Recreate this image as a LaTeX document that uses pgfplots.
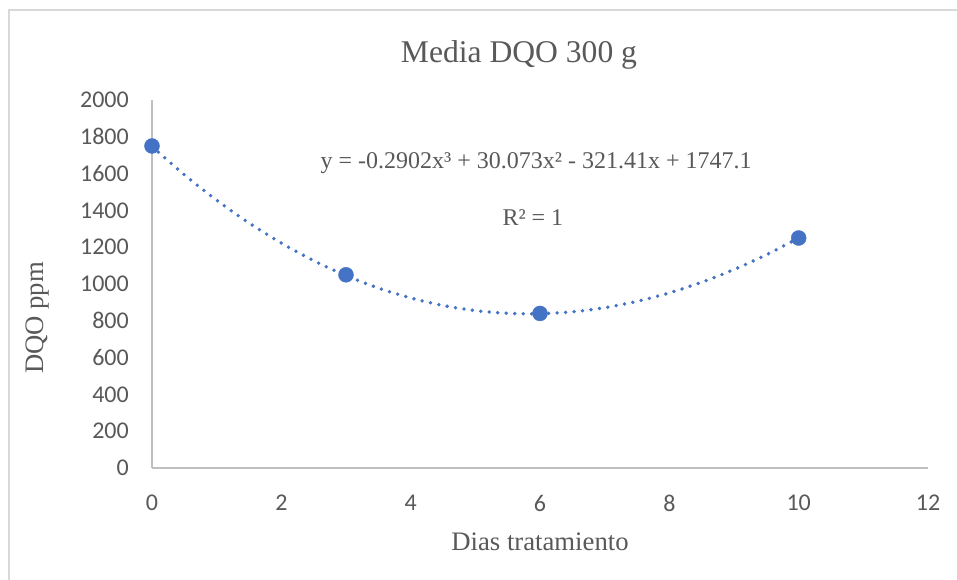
\documentclass[border=0pt]{standalone}
\usepackage{pgfplots}
\pgfplotsset{compat=1.18}
\usepackage{fontspec}
\setmainfont{Liberation Serif}
\newfontfamily\calibri{Carlito}
\definecolor{txtgray}{HTML}{595959}
\definecolor{axgray}{HTML}{BFBFBF}
\definecolor{bordergray}{HTML}{D9D9D9}
\definecolor{ptblue}{HTML}{4472C4}
\begin{document}
\begin{tikzpicture}
\useasboundingbox (-152pt,-112pt) rectangle (805pt,468pt);
\fill[white] (-152pt,-112pt) rectangle (805pt,468pt);
\draw[bordergray, line width=2pt] (-143pt,-115pt) -- (-143pt,458pt) -- (810pt,458pt);
\begin{axis}[
  at={(0pt,0pt)}, anchor=south west,
  scale only axis,
  width=776pt, height=368pt,
  xmin=0, xmax=12, ymin=0, ymax=2000,
  xtick={0,2,...,12}, ytick={0,200,...,2000},
  axis x line=bottom, axis y line=left,
  axis line style={axgray, line width=1.5pt, -},
  major tick length=0pt,
  tick style={draw=none},
  /pgf/number format/assume math mode=true,
  /pgf/number format/set thousands separator={},
  ticklabel style={font=\calibri\fontsize{24}{24}\selectfont, text=txtgray},
  yticklabel style={inner sep=0pt, anchor=east, xshift=-23pt},
  xticklabel style={inner sep=0pt, anchor=north, yshift=-27pt},
  clip=false,
]
\addplot[ptblue, line width=3.8pt, dash pattern=on 0pt off 8.5pt, line cap=round, smooth] coordinates {
(0,1747.1) (0.5,1593.88) (1,1455.47) (1.5,1331.67) (2,1222.25) (2.5,1127.00)
(3,1045.69) (3.5,978.12) (4,924.06) (4.5,883.29) (5,855.60) (5.5,840.77)
(6,838.58) (6.5,848.82) (7,871.27) (7.5,905.70) (8,951.91) (8.5,1009.67)
(9,1078.77) (9.5,1158.98) (10,1250.1)
};
\addplot[only marks, mark=*, mark size=7.5pt, mark options={fill=ptblue, draw=ptblue}] coordinates {
(0,1750) (3,1050) (6,840) (10,1250)
};
\node[text=txtgray, font=\fontsize{24}{24}\selectfont] at (axis cs:5.94,1658) {y = -0.2902x³ + 30.073x² - 321.41x + 1747.1};
\node[text=txtgray, font=\fontsize{24}{24}\selectfont] at (axis cs:5.89,1359) {R² = 1};
\end{axis}
\node[text=txtgray, font=\fontsize{31.6}{32}\selectfont] at (367pt,413pt) {Media DQO 300 g};
\node[text=txtgray, font=\fontsize{26.7}{27}\selectfont] at (388pt,-74pt) {Dias tratamiento};
\node[text=txtgray, font=\fontsize{26.7}{27}\selectfont, rotate=90] at (-114pt,150pt) {DQO ppm};
\end{tikzpicture}
\end{document}
